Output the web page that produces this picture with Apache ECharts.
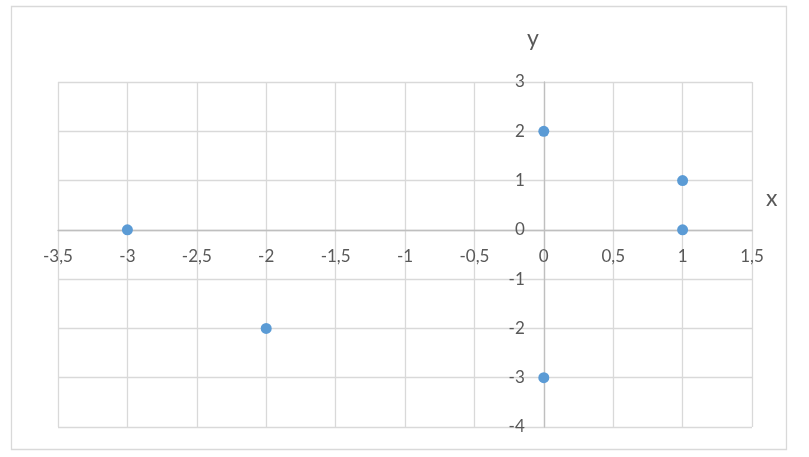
<!DOCTYPE html>
<html>
<head>
<meta charset="utf-8">
<script src="https://cdn.jsdelivr.net/npm/echarts@6/dist/echarts.min.js"></script>
<style>
html,body{margin:0;padding:0;background:#fff;}
#chart{width:809px;height:457px;}
</style>
</head>
<body>
<div id="chart"></div>
<script>
var xValues = [-3, -2, 0, 0, 1, 1];
var yValues = [0, -2, 2, -3, 1, 0];
var xAxisMin = -3.5, xAxisMax = 1.5, xAxisStep = 0.5;
var yAxisMin = -4, yAxisMax = 3, yAxisStep = 1;
var xAxisTitle = 'x';
var yAxisTitle = 'y';

var points = xValues.map(function (x, i) { return [x, yValues[i]]; });
function fmt(v) { return String(v).replace('.', ','); }

var G = { left: 58, top: 82, width: 694, height: 345 };
// shift axes so they cross at zero (labels follow the axis line)
var xAxisOffset = -(0 - yAxisMin) / (yAxisMax - yAxisMin) * G.height;
var yAxisOffset = -(0 - xAxisMin) / (xAxisMax - xAxisMin) * G.width;

var chart = echarts.init(document.getElementById('chart'));
chart.setOption({
  animation: false,
  backgroundColor: '#ffffff',
  textStyle: { fontFamily: 'Lato' },
  graphic: [
    { type: 'rect', shape: { x: 11.5, y: 6.5, width: 775, height: 443 },
      style: { fill: 'none', stroke: '#d9d9d9', lineWidth: 1.3 }, silent: true },
    { type: 'text', left: 766, top: 187,
      style: { text: xAxisTitle, fontSize: 23, fill: '#595959', fontFamily: 'Lato' } },
    { type: 'text', left: 527, top: 27,
      style: { text: yAxisTitle, fontSize: 23, fill: '#595959', fontFamily: 'Lato' } }
  ],
  grid: { left: G.left, top: G.top, width: G.width, height: G.height, containLabel: false },
  xAxis: {
    type: 'value', min: xAxisMin, max: xAxisMax, interval: xAxisStep,
    position: 'bottom', offset: xAxisOffset,
    axisLine: { onZero: false, lineStyle: { color: '#bfbfbf', width: 1.3 } },
    axisTick: { show: false },
    axisLabel: { color: '#595959', fontSize: 17, margin: 18, formatter: fmt, fontFamily: 'Lato' },
    splitLine: { show: true, lineStyle: { color: '#d9d9d9', width: 1.3 } }
  },
  yAxis: {
    type: 'value', min: yAxisMin, max: yAxisMax, interval: yAxisStep,
    position: 'left', offset: yAxisOffset,
    axisLine: { onZero: false, lineStyle: { color: '#bfbfbf', width: 1.3 } },
    axisTick: { show: false },
    axisLabel: { color: '#595959', fontSize: 17, margin: 19, formatter: fmt, fontFamily: 'Lato' },
    splitLine: { show: true, lineStyle: { color: '#d9d9d9', width: 1.3 } }
  },
  series: [{
    type: 'scatter',
    data: points,
    symbol: 'circle',
    symbolSize: 11,
    itemStyle: { color: '#5b9bd5', opacity: 1 }
  }]
});
</script>
</body>
</html>
